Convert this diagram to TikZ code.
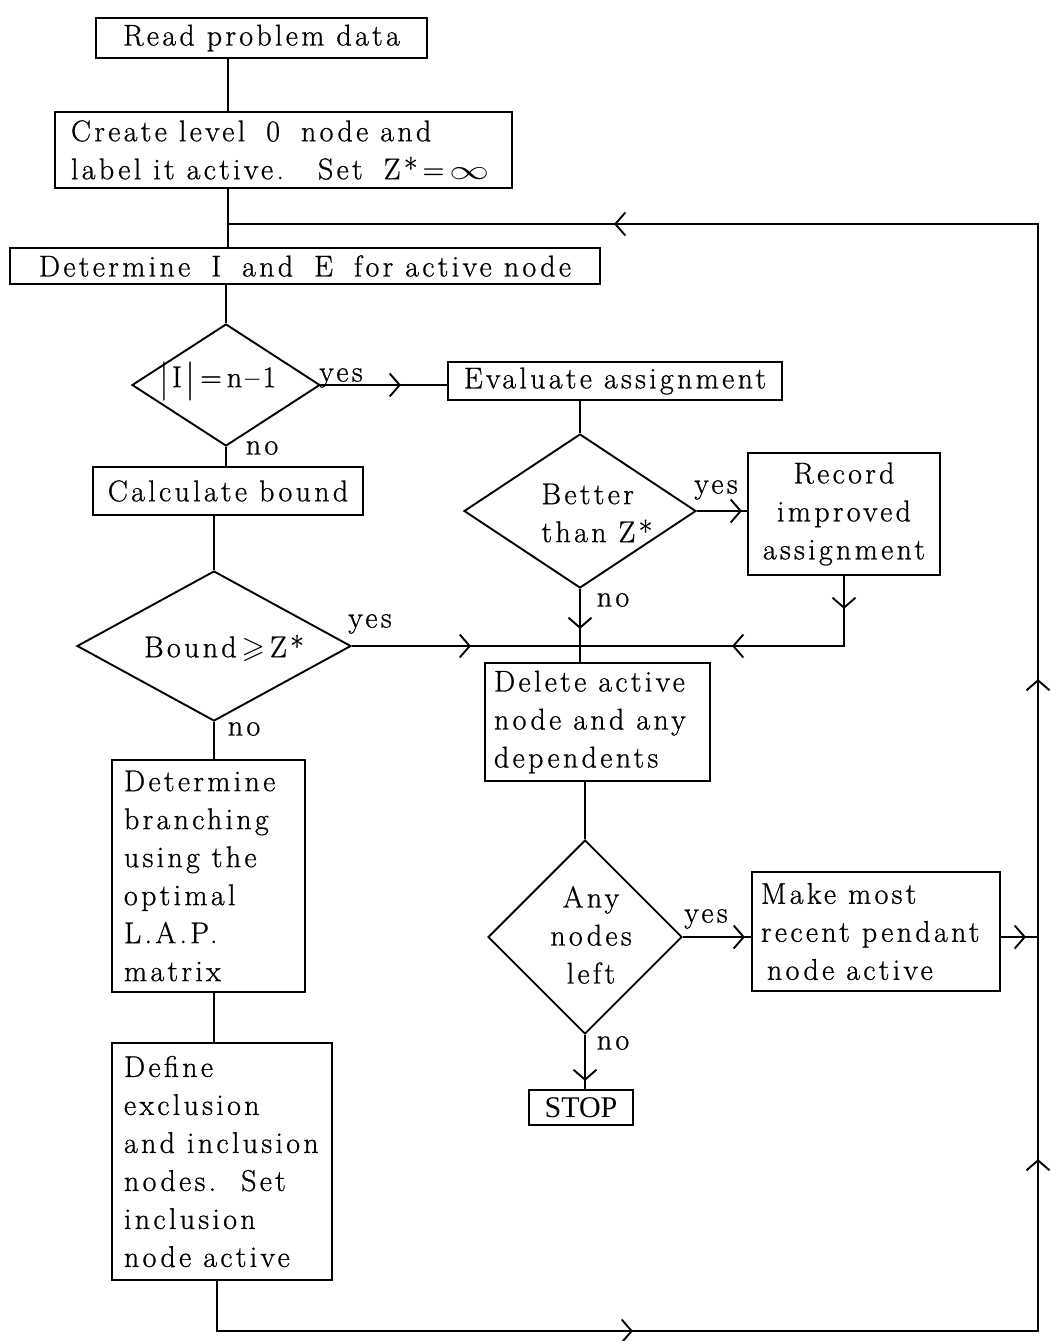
\documentclass[tikz,border=0pt]{standalone}
\usepackage{fontspec}
\usepackage{amssymb}
\usepackage{graphicx}
\usetikzlibrary{shapes.geometric,arrows.meta,decorations.markings}
\newfontfamily\twfont{Latin Modern Roman}[LetterSpace=11,FakeBold=0.8]
\newfontfamily\stopfont{Liberation Serif}

\tikzset{
  cv/.tip={Straight Barb[length=10pt,width=23pt]},
  ln/.style={line width=1.9pt},
  txt/.style={font={\twfont\fontsize{30}{38}\selectfont}, inner sep=0pt,
    execute at begin node={\spaceskip=12pt plus 4pt minus 2pt\xspaceskip=16pt plus 4pt\relax}},
  box/.style={draw, line width=1.9pt, txt, align=center},
  dia/.style={draw, shape=diamond, line width=1.9pt, inner sep=0pt},
  chev/.style={postaction={decorate, decoration={markings,
      mark=at position #1 with {\arrow{cv}}}}},
  chevtwo/.style 2 args={postaction={decorate, decoration={markings,
      mark=at position #1 with {\arrow{cv}},
      mark=at position #2 with {\arrow{cv}}}}},
}
\newcommand\tallbar{\raisebox{-0.12em}{\scalebox{1}[1.3]{|}}}
\newcommand\wsp{\hspace{9pt}}

\begin{document}
\begin{tikzpicture}[x=1pt,y=-1pt]
\useasboundingbox[fill=white] (0,0) rectangle (1050,1341);

% fixed points of the main spine and the return loop
\coordinate (sp) at (228,0);
\coordinate (jn) at (228,224);
\coordinate (bl) at (217,1331);
\coordinate (br) at (1038,1331);
\coordinate (tr) at (1038,224);

% process boxes
\node[box, minimum width=331pt, minimum height=40pt] (read) at (261.5,38) {Read problem data};
\node[box, minimum width=457pt, minimum height=76pt, text width=425pt, align=left] (create) at (283.5,150)
  {Create level\wsp{} 0\wsp{} node and\\label it active.\wsp\wsp{} Set\wsp{} Z*\,=\,\scalebox{1.6}[1.1]{$\infty$}};
\node[box, minimum width=590pt, minimum height=36pt] (det) at (305,266)
  {Determine\wsp{} I\wsp{} and\wsp{} E\wsp{} for active node};
\node[box, minimum width=334pt, minimum height=38pt] (eval) at (615,381) {Evaluate assignment};
\node[box, minimum width=270pt, minimum height=48pt] (calc) at (228,491) {Calculate bound};
\node[box, minimum width=192pt, minimum height=122pt] (record) at (844,514) {Record\\improved\\assignment};
\node[box, minimum width=225pt, minimum height=118pt, text width=207pt, align=left] (delete) at (597.5,722)
  {Delete active\\node and any\\dependents};
\node[box, minimum width=193pt, minimum height=232pt, text width=169pt, align=left] (dbranch) at (208.5,876)
  {Determine\\branching\\using the\\optimal\\L.A.P.\\matrix};
\node[box, minimum width=248pt, minimum height=119pt, text width=230pt, align=left] (make) at (876,931.5)
  {Make most\\recent~pendant\\\hspace*{6pt}node active};
\node[box, minimum width=220pt, minimum height=237pt, text width=196pt, align=left] (define) at (222,1161.5)
  {Define\\exclusion\\and~inclusion\\nodes.\wsp{} Set\\inclusion\\node active};
\node[draw, line width=1.9pt, inner sep=0pt, minimum width=104pt, minimum height=35pt,
  font={\stopfont\fontsize{30}{30}\selectfont}] (stop) at (581,1107.5) {STOP};

% decisions
\node[dia, minimum width=188pt, minimum height=122pt] (d1) at (226,385) {};
\node[txt] (t1) at (218,381) {\tallbar\kern4pt I\kern4pt\tallbar\kern6pt=\kern5pt n–1};
\node[dia, minimum width=274pt, minimum height=150pt] (d2) at (214,646) {};
\node[txt] (t2) at (224,648) {Bound\,$\geqslant$\,Z*};
\node[dia, minimum width=232pt, minimum height=154pt] (d3) at (580,511) {};
\node[txt, align=left] (t3) at (597,513) {Better\\than Z*};
\node[dia, minimum width=194pt, minimum height=194pt] (d4) at (585,937) {};
\node[txt, align=center] (t4) at (591,935) {Any\\nodes\\left};

% branch labels
\node[txt] (y1) at (341,378) {yes};
\node[txt] (n1) at (262,448) {no};
\node[txt] (y3) at (716,490) {yes};
\node[txt] (n3) at (613,600) {no};
\node[txt] (y2) at (370,624) {yes};
\node[txt] (n2) at (244,729) {no};
\node[txt] (y4) at (706,919) {yes};
\node[txt] (n4) at (613,1043) {no};

% main spine
\draw[ln] (read.south -| sp) -- (create.north -| sp);
\draw[ln] (create.south -| sp) -- (det.north -| sp);
\draw[ln] (det.south -| d1.north) -- (d1.north);
\draw[ln, chev=80pt] (d1.east) -- (d1.east -| eval.west);
\draw[ln] (d1.south) -- (calc.north -| d1.south);
\draw[ln] (calc.south -| d2.north) -- (d2.north);
\draw[ln] (d2.south) -- (dbranch.north -| d2.south);
\draw[ln] (dbranch.south -| d2.south) -- (define.north -| d2.south);

% right-hand column
\coordinate (jd) at (d3.south |- d2.east);
\draw[ln] (eval.south -| d3.north) -- (d3.north);
\draw[ln, chev=45pt] (d3.east) -- (d3.east -| record.west);
\draw[ln, chev=119pt] (d2.east) -- (jd);
\draw[ln, chevtwo={33pt}{182pt}] (record.south) -- (record.south |- d2.east) -- (jd);
\draw[ln, chev=40pt] (d3.south) -- (delete.north -| d3.south);
\draw[ln] (delete.south -| d4.north) -- (d4.north);
\draw[ln, chev=62pt] (d4.east) -- (d4.east -| make.west);
\draw[ln, chev=25pt] (d4.east -| make.east) -- (d4.east -| tr);
\draw[ln, chev=46pt] (d4.south) -- (stop.north -| d4.south);

% return loop to the top
\draw[ln, postaction={decorate, decoration={markings,
    mark=at position 466pt with {\arrow{cv}},
    mark=at position 1043pt with {\arrow{cv}},
    mark=at position 1523pt with {\arrow{cv}},
    mark=at position 2402pt with {\arrow{cv}}}}]
  (define.south -| bl) -- (bl) -- (br) -- (tr) -- (jn);
\end{tikzpicture}
\end{document}
